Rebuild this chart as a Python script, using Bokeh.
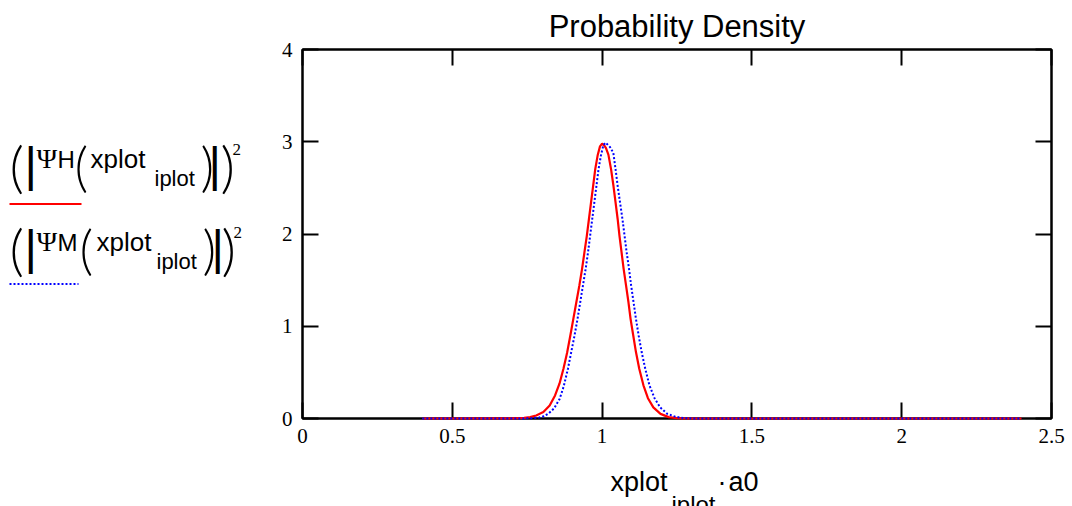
from bokeh.plotting import figure
from bokeh.models import Range1d, FixedTicker, LinearAxis, Label
from bokeh.layouts import row, column
from bokeh.embed import file_html
from bokeh.resources import INLINE

# ---------------- data ----------------
X_TICKS = [0, 0.5, 1, 1.5, 2, 2.5]
X_TICK_LABELS = ["0", "0.5", "1", "1.5", "2", "2.5"]
Y_TICKS = [0, 1, 2, 3, 4]
Y_TICK_LABELS = ["0", "1", "2", "3", "4"]

H_X = [0.40, 0.70, 0.74, 0.76, 0.78, 0.804, 0.825, 0.843, 0.858, 0.871, 0.883, 0.894,
       0.904, 0.914, 0.924, 0.933, 0.941, 0.949, 0.956, 0.963, 0.970, 0.977, 0.985,
       0.993, 1.000, 1.007, 1.013, 1.021, 1.030, 1.038, 1.045, 1.052, 1.058, 1.065,
       1.072, 1.080, 1.088, 1.095, 1.104, 1.113, 1.124, 1.138, 1.153, 1.171, 1.195,
       1.222, 1.25, 1.28, 2.40]
H_Y = [0.0, 0.001, 0.006, 0.015, 0.033, 0.07, 0.14, 0.25, 0.38, 0.54, 0.71, 0.90,
       1.08, 1.26, 1.44, 1.62, 1.80, 1.98, 2.16, 2.34, 2.52, 2.70, 2.85,
       2.95, 2.98, 2.96, 2.93, 2.86, 2.70, 2.52, 2.34, 2.16, 1.98, 1.80,
       1.62, 1.44, 1.26, 1.08, 0.90, 0.72, 0.54, 0.36, 0.22, 0.12, 0.05,
       0.015, 0.004, 0.0, 0.0]

M_X = [0.40, 0.74, 0.77, 0.79, 0.805, 0.821, 0.840, 0.858, 0.872, 0.886, 0.897, 0.908,
       0.918, 0.927, 0.936, 0.945, 0.953, 0.960, 0.967, 0.974, 0.981, 0.988, 0.996,
       1.004, 1.011, 1.018, 1.027, 1.0375, 1.045, 1.052, 1.060, 1.068, 1.075, 1.082,
       1.090, 1.097, 1.105, 1.113, 1.122, 1.132, 1.144, 1.158, 1.175, 1.194, 1.218,
       1.244, 1.27, 1.30, 2.40]
M_Y = [0.0, 0.001, 0.004, 0.01, 0.025, 0.054, 0.11, 0.21, 0.35, 0.54, 0.72, 0.90,
       1.08, 1.26, 1.44, 1.62, 1.80, 1.98, 2.16, 2.34, 2.52, 2.70, 2.85,
       2.96, 2.99, 2.97, 2.94, 2.88, 2.70, 2.52, 2.34, 2.16, 1.98, 1.80,
       1.62, 1.44, 1.26, 1.08, 0.90, 0.72, 0.54, 0.36, 0.22, 0.12, 0.05,
       0.02, 0.005, 0.0, 0.0]

TITLE = "Probability Density"
SERIES = ["H", "M"]
SERIES_COLORS = ["#ff0000", "#0000ff"]

# ---------------- layout ----------------
W, H = 1072, 506
LEG_W = 262            # legend panel width
MAIN_W = W - LEG_W     # 810
XL_H = 48              # x-axis title strip height
MAIN_H = H - XL_H      # 458
BORDER_L, BORDER_R = 40, 21
FRAME_L = LEG_W + BORDER_L   # 302 (canvas x of plot frame left)
FRAME_R = W - BORDER_R       # 1051

SANS = "Liberation Sans"
SERIF = "Liberation Serif"
THIN = "Lato Light"
BASE_FIX = 0.33        # label baseline correction (fraction of font size)


def blank(width, height, x0, x1, y0, y1):
    f = figure(width=width, height=height, output_backend="svg", toolbar_location=None,
               title=None, x_range=Range1d(x0, x1), y_range=Range1d(y1, y0),
               min_border=0, outline_line_color=None,
               x_axis_location=None, y_axis_location=None)
    f.grid.visible = False
    f.background_fill_color = "white"
    f.border_fill_color = "white"
    return f


p = figure(width=MAIN_W, height=MAIN_H, output_backend="svg", toolbar_location=None,
           x_range=Range1d(0, 2.5), y_range=Range1d(0, 4),
           min_border_left=BORDER_L, min_border_right=BORDER_R, min_border_top=49,
           min_border_bottom=40)
p.grid.visible = False
p.outline_line_color = "black"
p.outline_line_width = 2
p.background_fill_color = "white"
p.border_fill_color = "white"
p.title.text = TITLE
p.title.align = "center"
p.title.text_font = SANS
p.title.text_font_style = "normal"
p.title.text_font_size = "31px"
p.title.text_color = "black"
p.title.standoff = 12


def style_axis(ax, ticks, labels, show_labels):
    ax.ticker = FixedTicker(ticks=ticks)
    ax.major_label_overrides = {t: (l if show_labels else "") for t, l in zip(ticks, labels)}
    ax.axis_line_color = "black"
    ax.axis_line_width = 2
    ax.major_tick_line_color = "black"
    ax.major_tick_line_width = 2
    ax.major_tick_in = 16
    ax.major_tick_out = 0
    ax.minor_tick_line_color = None
    ax.major_label_text_font = SERIF
    ax.major_label_text_font_size = "21px" if show_labels else "1px"
    ax.major_label_text_color = "black"
    ax.major_label_standoff = 10 if show_labels else 0


style_axis(p.xaxis[0], X_TICKS, X_TICK_LABELS, True)
style_axis(p.yaxis[0], Y_TICKS, Y_TICK_LABELS, True)
top = LinearAxis()
right = LinearAxis()
p.add_layout(top, "above")
p.add_layout(right, "right")
style_axis(top, X_TICKS, X_TICK_LABELS, False)
style_axis(right, Y_TICKS, Y_TICK_LABELS, False)

rh = p.line(H_X, H_Y, line_color=SERIES_COLORS[0], line_width=2.2)
rm = p.line(M_X, M_Y, line_color=SERIES_COLORS[1], line_width=2, line_dash="2 2")
rh.level = "overlay"
rm.level = "overlay"


def txt(f, s, cx, cy, size, font=SANS, align="left"):
    f.add_layout(Label(x=cx, y=cy - BASE_FIX * size, text=s, text_font=font,
                       text_font_size=f"{size}px", text_align=align,
                       text_baseline="alphabetic", text_color="black"))


# x axis title strip (its frame is aligned with the plot frame in the column)
xl = blank(MAIN_W, XL_H, FRAME_L, FRAME_R, MAIN_H, H)
txt(xl, "xplot", 610, 490, 27)
txt(xl, "iplot", 671, 512, 24)
txt(xl, "\u00b7", 721.5, 490, 27, align="center")
txt(xl, "a0", 728, 490, 27)

# legend panel (canvas coordinates)
lg = blank(LEG_W, H, 0, LEG_W, 0, H)
for i, name in enumerate(SERIES):
    dy = 83 * i
    sh = 1 if i else 0
    b = 167 + dy
    txt(lg, "(", 9, b + 16, 56, font=THIN)
    txt(lg, "|", 24, b + 13, 48)
    txt(lg, "\u03a8", 36, b, 28, font=SERIF)
    txt(lg, name, 57, b, 24)
    txt(lg, "(", 74 + 5 * sh, b + 15, 53, font=THIN)
    txt(lg, "xplot", 90 + 6 * sh, b, 26)
    txt(lg, "iplot", 154 + 2 * sh, b + 18, 22)
    txt(lg, ")", 200 + 2 * sh, b + 15, 53, font=THIN)
    txt(lg, "|", 208 + 3 * sh, b + 13, 48)
    txt(lg, ")", 220 + sh, b + 16, 56, font=THIN)
    txt(lg, "2", 232 + sh, b - 12, 17, font=SERIF)
    ly = 203.5 + 80 * i
    lg.line([9, 81 - 3 * sh], [ly, ly], line_color=SERIES_COLORS[i], line_width=2,
            line_dash="2 2" if i else "solid")

layout = row(lg, column(p, xl, spacing=0), spacing=0)
open("out.html", "w").write(file_html(layout, INLINE))
